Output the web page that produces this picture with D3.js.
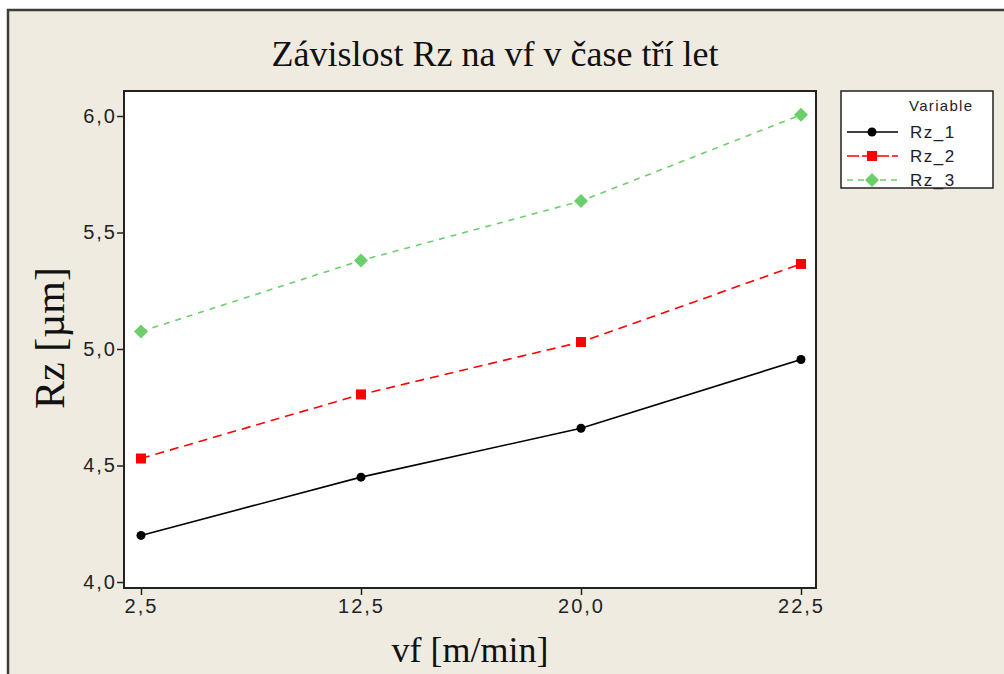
<!DOCTYPE html>
<html><head><meta charset="utf-8">
<script src="https://cdn.jsdelivr.net/npm/d3@7"></script>
<style>body{margin:0;background:#fff}svg{display:block}</style>
</head><body>
<svg id="c" width="1004" height="674"></svg>
<script>
const categories = ["2,5", "12,5", "20,0", "22,5"];
const rz1 = [4.20, 4.45, 4.66, 4.955];
const rz2 = [4.53, 4.805, 5.03, 5.365];
const rz3 = [5.075, 5.38, 5.635, 6.005];
const yTicks = [4.0, 4.5, 5.0, 5.5, 6.0];
const seriesNames = ["Rz_1", "Rz_2", "Rz_3"];

const series = [
  {name: seriesNames[0], values: rz1, color: "#000000", dash: null, shape: "circle"},
  {name: seriesNames[1], values: rz2, color: "#ff0000", dash: "9,6", shape: "square"},
  {name: seriesNames[2], values: rz3, color: "#6ccf6c", dash: "6,6", shape: "diamond"}
];

const svg = d3.select("#c");
svg.append("rect").attr("x", 0).attr("y", 0).attr("width", 1004).attr("height", 674).attr("fill", "#ffffff");
svg.append("rect").attr("x", 8).attr("y", 10).attr("width", 1010).attr("height", 680)
  .attr("fill", "#f0ebe1").attr("stroke", "#3c3c3c").attr("stroke-width", 2.5);

const L = 124, R = 816, T = 91, B = 588;
const x = d3.scalePoint().domain(categories).range([141, 801]);
const y = d3.scaleLinear().domain([4.0, 6.0]).range([582, 116]);

svg.append("rect").attr("x", L).attr("y", T).attr("width", R - L).attr("height", B - T)
  .attr("fill", "#ffffff").attr("stroke", "#222").attr("stroke-width", 2);

const fmt = d => d3.format(".1f")(d).replace(".", ",");
const yAxis = svg.append("g").attr("transform", `translate(${L - 1},0)`)
  .call(d3.axisLeft(y).tickValues(yTicks).tickFormat(fmt).tickSize(6).tickPadding(0));
yAxis.select(".domain").remove();
const xAxis = svg.append("g").attr("transform", `translate(0,${B + 1})`)
  .call(d3.axisBottom(x).tickSize(6).tickPadding(4));
xAxis.select(".domain").remove();
yAxis.attr("font-size", 20).attr("font-family", "Liberation Sans, Arial, sans-serif");
xAxis.attr("font-size", 20).attr("font-family", "Liberation Sans, Arial, sans-serif");
svg.selectAll(".tick text").style("font-size", "20px")
  .style("font-family", "Liberation Sans, Arial, sans-serif")
  .attr("letter-spacing", 2).attr("fill", "#222");
svg.selectAll(".tick line").attr("stroke", "#222").attr("stroke-width", 1.5);

const line = d3.line().x((d, i) => x(categories[i])).y(d => y(d));
series.forEach(s => {
  svg.append("path").datum(s.values).attr("d", line)
    .attr("fill", "none").attr("stroke", s.color).attr("stroke-width", 1.6)
    .attr("stroke-dasharray", s.dash);
});

function marker(g, shape, color, cx, cy) {
  if (shape === "circle") g.append("circle").attr("cx", cx).attr("cy", cy).attr("r", 4.5).attr("fill", color);
  else if (shape === "square") g.append("rect").attr("x", cx - 5).attr("y", cy - 5).attr("width", 10).attr("height", 10).attr("fill", color);
  else g.append("path").attr("d", `M${cx},${cy - 7}L${cx + 7},${cy}L${cx},${cy + 7}L${cx - 7},${cy}Z`).attr("fill", color);
}
series.forEach(s => {
  s.values.forEach((v, i) => marker(svg, s.shape, s.color, x(categories[i]), y(v)));
});

svg.append("text").attr("x", 495).attr("y", 66).attr("text-anchor", "middle")
  .attr("font-family", "Liberation Serif, Times New Roman, serif").attr("font-size", 36)
  .attr("fill", "#111").text("Závislost Rz na vf v čase tří let");
svg.append("text").attr("x", 470).attr("y", 662).attr("text-anchor", "middle")
  .attr("font-family", "Liberation Serif, Times New Roman, serif").attr("font-size", 36)
  .attr("fill", "#111").text("vf [m/min]");
svg.append("text").attr("transform", "translate(64,338) rotate(-90)").attr("text-anchor", "middle")
  .attr("font-family", "Liberation Serif, Times New Roman, serif").attr("font-size", 42)
  .attr("fill", "#111").text("Rz [µm]");

const lg = svg.append("g");
lg.append("rect").attr("x", 841).attr("y", 91).attr("width", 152).attr("height", 97)
  .attr("fill", "#ffffff").attr("stroke", "#222").attr("stroke-width", 1.5);
lg.append("text").attr("x", 909).attr("y", 111).attr("font-family", "Liberation Sans, Arial, sans-serif")
  .attr("font-size", 15).attr("letter-spacing", 1.3).attr("fill", "#222").text("Variable");
const rowsY = [132, 156, 180];
series.forEach((s, i) => {
  lg.append("line").attr("x1", 847).attr("x2", 898).attr("y1", rowsY[i]).attr("y2", rowsY[i])
    .attr("stroke", s.color).attr("stroke-width", 1.6).attr("stroke-dasharray", s.dash ? (i === 1 ? "12,3" : "6,5") : null);
  marker(lg, s.shape, s.color, 872, rowsY[i]);
  lg.append("text").attr("x", 910).attr("y", rowsY[i] + 6).attr("font-family", "Liberation Sans, Arial, sans-serif")
    .attr("font-size", 17).attr("letter-spacing", 1.5).attr("fill", "#222").text(s.name);
});
</script>
</body></html>
